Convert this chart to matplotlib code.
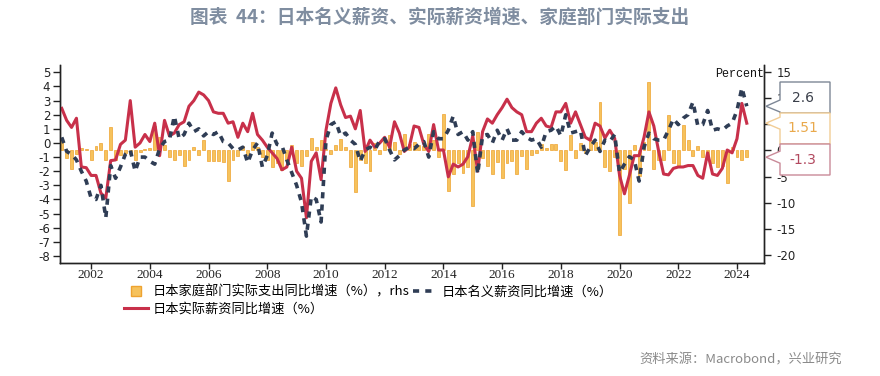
# * Japan wages vs household spending chart (Macrobond style)

import numpy as np
import matplotlib
matplotlib.use('Agg')
import matplotlib.pyplot as plt
from matplotlib.lines import Line2D
from matplotlib.patches import Polygon

plt.rcParams['font.family'] = ['Noto Sans CJK SC', 'DejaVu Sans']
plt.rcParams['axes.unicode_minus'] = False

# * Data, bimonthly from Jan 2001
start_year = 2001
step = 1 / 6

# 日本实际薪资同比增速 (left axis)
real_wage = [
    2.45, 1.6, 1.1, 1.75, -1.7, -1.75, -2.3, -2.3, -3.55, -3.9, -1.25, -1.2, -0.1, 0.2, 3.0, -0.3,
    0.0, 0.6, 0.1, 1.4, -0.9, 1.6, 0.5, 0.7, 1.3, 1.5, 2.6, 3.0, 3.6, 3.4, 3.0, 2.2, 2.1, 2.1,
    1.4, 1.5, 0.4,
    1.4, 0.8, 2.1, 0.6, 0.2, -0.3, -0.7, -1.1, -1.9, -1.7, -0.3, -2.0, -2.5, -5.3, -1.3, -0.7,
    -2.6, 0.9, 2.8, 3.9, 2.7, 1.8, 1.9, 1.0, 2.3, -0.6, 0.2, -0.3, 0.0, 0.4, -0.3, 1.5, 0.7,
    -0.6, -0.3,
    1.2, 1.1, -0.1, -0.6, 1.3, -0.5, -0.5, -2.4, -1.5, -1.7, -1.5, -0.97, 0.5, -2.0, 0.8, 1.7,
    1.4, 2.0, 2.5, 3.1, 2.5, 2.2, 2.0, 0.8, 0.8, 1.4, 1.75, 1.2, 1.1, 2.2, 2.2, 2.8, 1.4, 2.2,
    1.3, 0.4,
    0.2, 1.4, 1.2, 0.35, 0.9, 0.33, -2.3, -3.6, -2.3, -0.9, -0.9, 0.4, 2.2, 1.2, -0.6, -2.2,
    -2.26, -1.8, -1.7, -1.7, -1.6, -1.6, -2.3, -2.5, -0.7, -2.2, -2.3, -1.8, -0.5, -0.7, 0.3,
    2.8, 1.4,
]

# 日本名义薪资同比增速 (left axis)
nominal_wage = [
    0.4, -0.6, -0.8, -1.2, -2.0, -2.7, -3.9, -4.0, -3.0, -5.3, -1.6, -2.5, -1.7, -0.8, -0.5, -2.0,
    -1.0, -1.0, -1.3, -1.5, -0.4, 0.1, 0.2, 1.9, 0.3, 0.6, 1.4, 0.8, 1.0, 0.5, 0.8, 0.6, 0.8,
    0.1, 0.0, -0.4, -0.5,
    -0.3, -1.4, -0.5, 0.0, -1.7, -0.9, 0.7, -0.1, -0.2, -1.2, -2.1, -3.0, -4.2, -6.6, -3.8, -4.0,
    -5.6, 0.2, 1.3, 1.5, 0.5, 0.7, 0.2, -0.1, -1.3, -0.5, -0.3, -0.5, 0.2, 0.3, -0.5, -1.2, -0.9,
    -0.5, -0.3,
    -0.4, -0.1, 0.1, -1.0, 0.8, 0.3, 0.3, 0.9, 1.9, 0.6, 0.8, 0.2, 0.8, -2.2, 0.5, 0.6, 0.0, 0.9,
    0.2, 1.0, 0.2, 0.2, 0.8, 0.4, 0.2, 0.3, -0.3, 0.8, 0.9, 1.2, 0.5, 2.0, 0.7, 0.8, 0.9, -0.9,
    -0.3, 0.2, -0.6, 0.2, 0.1, 0.6, -2.1, -1.5, -0.97, -1.2, -2.7, -0.3, 0.7, 0.3, 0.2, 0.2, 0.9,
    1.7, 1.3, 1.75, 2.0, 2.9, 1.2, 1.3, 2.3, 0.9, 1.0, 0.9, 1.2, 1.4, 2.3, 3.9, 2.6,
]

# 日本家庭部门实际支出同比增速 (right axis)
household_spend = [
    2.0, -1.5, -3.5, -0.6, 0.4, 0.3, -1.8, 0.8, 1.5, -1.9, 4.4, -1.9, -0.8, -0.5, -0.6, -1.9,
    -0.4, 0.3, 0.5, 4.6, 2.5, 1.0, -1.2, -1.8, -0.8, -3.0, -1.9, 0.6, -0.8, 2.0, -2.0, -2.0,
    -2.0, -2.3, -5.8, -1.9, -1.0,
    0.8, -0.9, 1.6, 0.6, -1.2, -1.8, -3.1, -2.5, -3.8, -1.9, 1.0, -2.5, -3.0, -1.0, 2.3, 0.6,
    2.0, 0.3, -0.6, 1.0, 2.2, 0.6, -3.1, -8.0, -1.9, -2.5, -4.0, 1.5, -0.6, 1.8, 3.0, 1.6, -0.6,
    3.2, 1.2,
    1.6, 1.0, 0.8, 3.2, 2.0, -1.2, 7.0, -7.8, -4.5, -2.5, -4.3, -3.1, -10.6, 3.5, -1.5, -2.9,
    -4.5, -2.2, -5.3, -2.5, -2.0, -4.6, -1.0, -3.5, -0.9, -0.5, 1.3, 0.4, 1.3, 1.2, -2.0, -3.8,
    2.9, -1.4, 1.5, -0.5,
    2.0, 1.6, 9.3, -3.1, -4.0, -1.2, -16.2, -3.5, -10.1, 1.0, -4.8, 1.6, 13.0, -3.5, -1.9, -1.9,
    6.7, -2.5, -3.1, 4.8, 2.0, -1.0, 0.8, -1.3, -1.3, -2.5, -3.1, -3.0, -6.3, 0.6, -1.3, -1.9,
    -1.3,
]

x_ticks = list(range(2002, 2025, 2))
left_ticks = list(range(-8, 6))
right_ticks = list(range(-20, 16, 5))

# last-value callouts: text, which series, colours
callouts = [
    ('2.6', 'nominal', '#3A3F4A', '#7D8796'),
    ('1.51', 'real', '#E9A94C', '#F2CD95'),
    ('-1.3', 'spend', '#B2495F', '#C98A98'),
]

title = '图表  44：日本名义薪资、实际薪资增速、家庭部门实际支出'
source = '资料来源：Macrobond，兴业研究'

# * Figure and axes
W, H = 880, 376
fig = plt.figure(figsize=(W / 100, H / 100), dpi=100)
ax = fig.add_axes([60 / W, 1 - 263 / H, (764 - 60) / W, (263 - 65) / H])
ax2 = ax.twinx()
ax.set_zorder(ax2.get_zorder() + 1)
ax.patch.set_visible(False)

t = start_year + np.arange(len(real_wage)) * step

red = '#C8304A'
navy = '#2F3D55'
bar_face = '#F6C25C'
bar_edge = '#EEA330'
nom_dash = (1.7, 1.7)

ax2.bar(t, household_spend, width=0.1, color=bar_face, edgecolor=bar_edge, linewidth=0.5)
ax.plot(t, real_wage, color=red, lw=2.2, solid_joinstyle='round')
ax.plot(t, nominal_wage, color=navy, lw=2.6, dashes=nom_dash)

ax.set_xlim(2000.94, 2024.92)
ax.set_ylim(-8.5, 5.52)
ax2.set_ylim(-21.5, 16.3)

ax.set_xticks(x_ticks)
ax.set_xticklabels([str(x) for x in x_ticks], family='Liberation Serif', fontsize=9.5)
ax.set_yticks(left_ticks)
ax.set_yticklabels([str(v) for v in left_ticks], family='DejaVu Sans', fontsize=8.5)
ax2.set_yticks(right_ticks)
ax2.set_yticklabels([str(v) for v in right_ticks], family='DejaVu Sans', fontsize=8.5)

for a in (ax, ax2):
    a.spines['top'].set_visible(False)
    for s in ('left', 'right', 'bottom'):
        a.spines[s].set_linewidth(1.0)
        a.spines[s].set_color('#222222')
ax.tick_params(axis='y', length=5, width=1, color='#222222', labelcolor='#222222', pad=2)
ax.tick_params(axis='x', length=4, width=1, color='#222222', labelcolor='#222222', pad=0.5)
ax2.tick_params(axis='y', length=5, width=1, color='#222222', labelcolor='#222222', pad=4)

ax.text(1.0, 0.985, 'Percent', transform=ax.transAxes, ha='right', va='top',
        family='Liberation Mono', fontsize=8.5, color='#111111')

# * Callout boxes on the right
def fx(px):
    return px / W

def fy(py):
    return 1 - py / H

last = {'nominal': (ax, nominal_wage[-1]), 'real': (ax, real_wage[-1]),
        'spend': (ax2, household_spend[-1])}
box_tops = [82, 113, 144]
box_h = 31
for (label, key, tcol, ecol), top in zip(callouts, box_tops):
    a, val = last[key]
    tip = H - a.transData.transform((2010, val))[1]
    bottom = top + box_h
    base = min(max(tip, top + 7), bottom - 7)
    pts = [(780, top), (830, top), (830, bottom), (780, bottom), (780, base + 6),
           (766, tip), (780, base - 6)]
    poly = Polygon([(fx(px), fy(py)) for px, py in pts], closed=True,
                   transform=fig.transFigure, facecolor='white', edgecolor=ecol,
                   linewidth=1.0, zorder=10)
    fig.add_artist(poly)
    fig.text(fx(803), fy(top + box_h / 2), label, ha='center', va='center',
             family='DejaVu Sans', fontsize=10, color=tcol, zorder=11)

# * Legend
h_spend = Line2D([], [], marker='s', linestyle='none', markersize=7,
                 markerfacecolor=bar_face, markeredgecolor=bar_edge)
h_real = Line2D([], [], color=red, lw=2.2)
h_nom = Line2D([], [], color=navy, lw=2.6, dashes=nom_dash)
fig.legend([h_spend, h_real, h_nom],
           ['日本家庭部门实际支出同比增速（%），rhs', '日本实际薪资同比增速（%）',
            '日本名义薪资同比增速（%）'],
           ncol=2, loc='upper left', bbox_to_anchor=(fx(124), fy(285)), frameon=False,
           fontsize=9.5, handlelength=1.8, handletextpad=0.4, columnspacing=0.2,
           labelspacing=0.35, borderaxespad=0, borderpad=0)

# * Title and source
fig.text(0.5, fy(17), title, ha='center', va='center', fontsize=13.5,
         fontweight='bold', color='#7F8DA0')
fig.text(fx(842), fy(360), source, ha='right', va='center', fontsize=9.5,
         color='#8A8A8A')

fig.savefig('out.png', dpi=100)
